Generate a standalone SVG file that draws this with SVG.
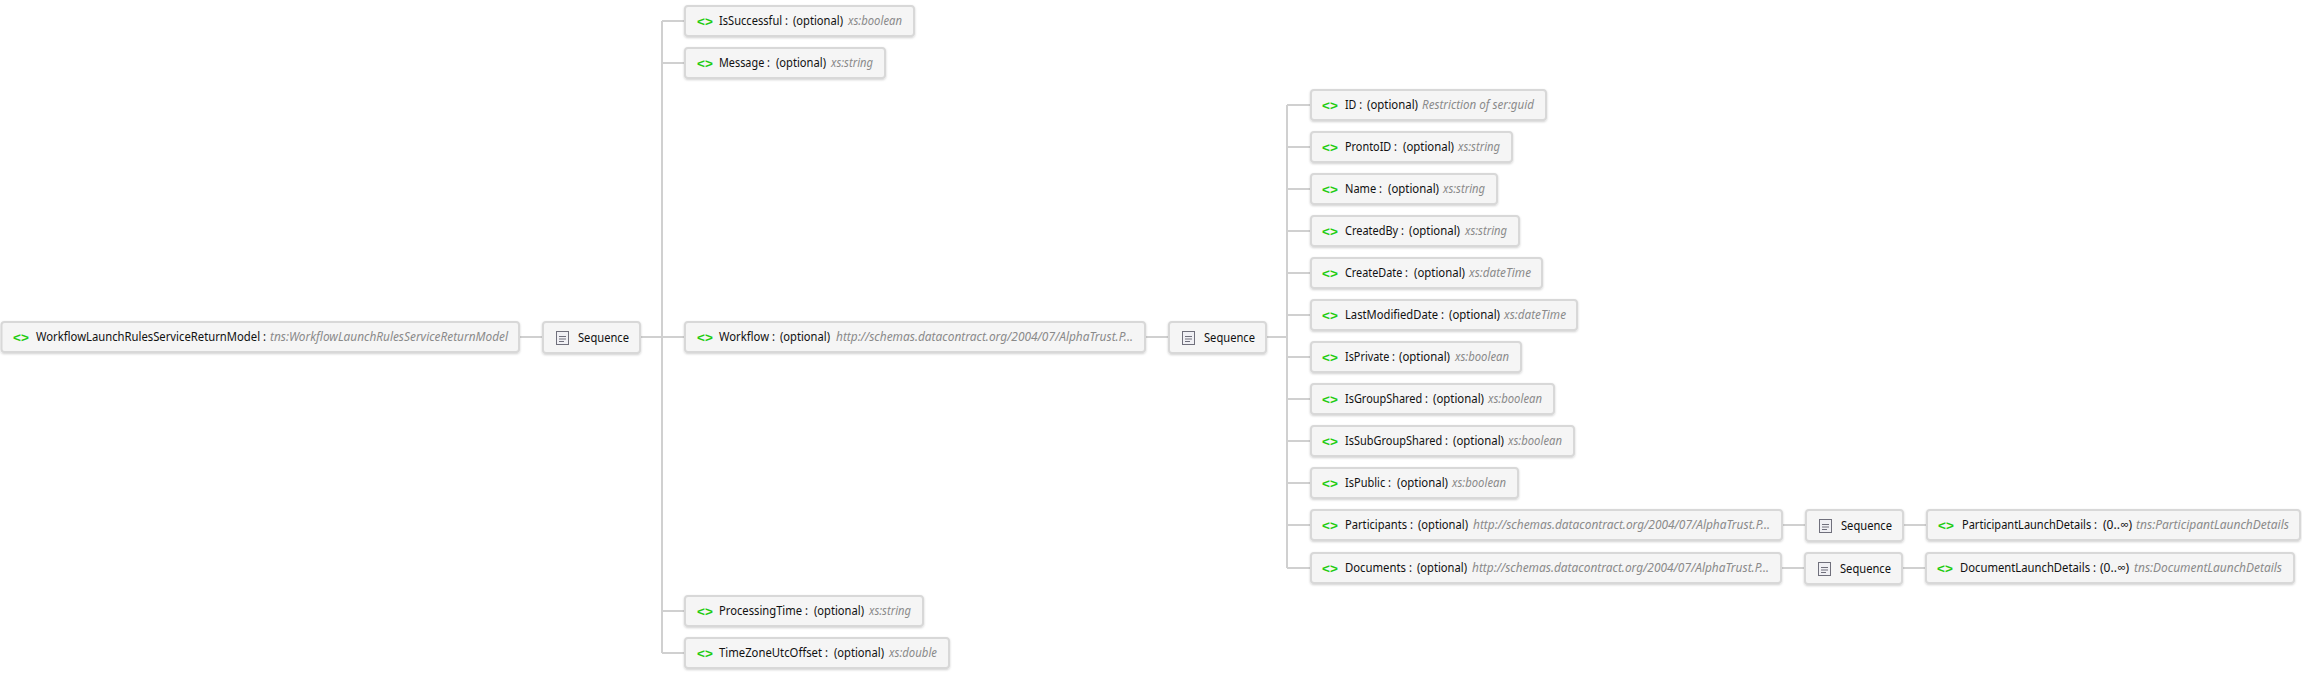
<svg xmlns="http://www.w3.org/2000/svg" width="2302" height="674" viewBox="0 0 2302 674">
<style>
text{font-family:"Noto Sans","Open Sans","Liberation Sans",sans-serif;font-size:12px;fill:#111}
.box{fill:#f5f5f5;stroke:#d8d8d8;stroke-width:2}
.ty{font-style:italic;fill:#8a8a8a}
text.ch{font-family:"Liberation Sans",sans-serif;font-weight:bold;font-size:13.5px;fill:#22cc11}
.ln{stroke:#d0d0d0;stroke-width:2;fill:none}
.ic{fill:#f0f0f4;stroke:#70707c;stroke-width:1}
.il{stroke:#70707c;stroke-width:1}
</style>
<defs>
<filter id="sh" x="-5%" y="-20%" width="110%" height="150%"><feDropShadow dx="0" dy="1" stdDeviation="1" flood-color="#000" flood-opacity="0.18"/></filter>
<g id="seqicon"><rect class="ic" x="0.5" y="0.5" width="12" height="13"/><path class="il" d="M3 5.5H10M3 8H10M3 10.5H8"/></g>
</defs>
<g id="connectors">
<path class="ln" d="M520 337H542M641 337H684M662 21V653M662 21H684M662 63H684M662 611H684M662 653H684"/>
<path class="ln" d="M1146 337H1168M1267 337H1287M1287 105V568M1287 105H1310M1287 147H1310M1287 189H1310M1287 231H1310M1287 273H1310M1287 315H1310M1287 357H1310M1287 399H1310M1287 441H1310M1287 483H1310M1287 525H1310M1287 568H1310"/>
<path class="ln" d="M1783 525H1805M1904 525H1926M1782 568H1804M1903 568H1925"/>
</g>
<g id="root"><rect class="box" filter="url(#sh)" x="1.5" y="322" width="517.5" height="30" rx="3"/><text class="ch" x="13" y="341.5">&lt;&gt;</text><text y="341"><tspan x="36" textLength="230" lengthAdjust="spacingAndGlyphs">WorkflowLaunchRulesServiceReturnModel :</tspan><tspan class="ty" x="270" textLength="238" lengthAdjust="spacingAndGlyphs">tns:WorkflowLaunchRulesServiceReturnModel</tspan></text></g>
<g id="seq1"><rect class="box" filter="url(#sh)" x="543" y="322" width="97" height="31" rx="3"/><use href="#seqicon" x="556" y="331"/><text x="578" y="342" textLength="51" lengthAdjust="spacingAndGlyphs">Sequence</text></g>
<g id="isSuccessful"><rect class="box" filter="url(#sh)" x="685" y="6" width="229" height="30" rx="3"/><text class="ch" x="697" y="25.5">&lt;&gt;</text><text y="25"><tspan x="719" textLength="69" lengthAdjust="spacingAndGlyphs">IsSuccessful :</tspan><tspan x="793" textLength="50" lengthAdjust="spacingAndGlyphs">(optional)</tspan><tspan class="ty" x="848" textLength="54" lengthAdjust="spacingAndGlyphs">xs:boolean</tspan></text></g>
<g id="message"><rect class="box" filter="url(#sh)" x="685" y="48" width="200" height="30" rx="3"/><text class="ch" x="697" y="67.5">&lt;&gt;</text><text y="67"><tspan x="719" textLength="51" lengthAdjust="spacingAndGlyphs">Message :</tspan><tspan x="776" textLength="50" lengthAdjust="spacingAndGlyphs">(optional)</tspan><tspan class="ty" x="831" textLength="42" lengthAdjust="spacingAndGlyphs">xs:string</tspan></text></g>
<g id="workflow"><rect class="box" filter="url(#sh)" x="685" y="322" width="460" height="30" rx="3"/><text class="ch" x="697" y="341.5">&lt;&gt;</text><text y="341"><tspan x="719" textLength="56" lengthAdjust="spacingAndGlyphs">Workflow :</tspan><tspan x="780" textLength="50" lengthAdjust="spacingAndGlyphs">(optional)</tspan><tspan class="ty" x="836" textLength="297" lengthAdjust="spacingAndGlyphs">http://schemas.datacontract.org/2004/07/AlphaTrust.P...</tspan></text></g>
<g id="processingTime"><rect class="box" filter="url(#sh)" x="685" y="596" width="238" height="30" rx="3"/><text class="ch" x="697" y="615.5">&lt;&gt;</text><text y="615"><tspan x="719" textLength="89" lengthAdjust="spacingAndGlyphs">ProcessingTime :</tspan><tspan x="814" textLength="50" lengthAdjust="spacingAndGlyphs">(optional)</tspan><tspan class="ty" x="869" textLength="42" lengthAdjust="spacingAndGlyphs">xs:string</tspan></text></g>
<g id="timeZone"><rect class="box" filter="url(#sh)" x="685" y="638" width="264" height="30" rx="3"/><text class="ch" x="697" y="657.5">&lt;&gt;</text><text y="657"><tspan x="719" textLength="109" lengthAdjust="spacingAndGlyphs">TimeZoneUtcOffset :</tspan><tspan x="834" textLength="50" lengthAdjust="spacingAndGlyphs">(optional)</tspan><tspan class="ty" x="889" textLength="48" lengthAdjust="spacingAndGlyphs">xs:double</tspan></text></g>
<g id="seq2"><rect class="box" filter="url(#sh)" x="1169" y="322" width="97" height="31" rx="3"/><use href="#seqicon" x="1182" y="331"/><text x="1204" y="342" textLength="51" lengthAdjust="spacingAndGlyphs">Sequence</text></g>
<g id="id"><rect class="box" filter="url(#sh)" x="1311" y="90" width="235" height="30" rx="3"/><text class="ch" x="1322" y="109.5">&lt;&gt;</text><text y="109"><tspan x="1345" textLength="17" lengthAdjust="spacingAndGlyphs">ID :</tspan><tspan x="1367" textLength="51" lengthAdjust="spacingAndGlyphs">(optional)</tspan><tspan class="ty" x="1422" textLength="112" lengthAdjust="spacingAndGlyphs">Restriction of ser:guid</tspan></text></g>
<g id="prontoId"><rect class="box" filter="url(#sh)" x="1311" y="132" width="201" height="30" rx="3"/><text class="ch" x="1322" y="151.5">&lt;&gt;</text><text y="151"><tspan x="1345" textLength="52" lengthAdjust="spacingAndGlyphs">ProntoID :</tspan><tspan x="1403" textLength="51" lengthAdjust="spacingAndGlyphs">(optional)</tspan><tspan class="ty" x="1458" textLength="42" lengthAdjust="spacingAndGlyphs">xs:string</tspan></text></g>
<g id="name"><rect class="box" filter="url(#sh)" x="1311" y="174" width="186" height="30" rx="3"/><text class="ch" x="1322" y="193.5">&lt;&gt;</text><text y="193"><tspan x="1345" textLength="37" lengthAdjust="spacingAndGlyphs">Name :</tspan><tspan x="1388" textLength="51" lengthAdjust="spacingAndGlyphs">(optional)</tspan><tspan class="ty" x="1443" textLength="42" lengthAdjust="spacingAndGlyphs">xs:string</tspan></text></g>
<g id="createdBy"><rect class="box" filter="url(#sh)" x="1311" y="216" width="208" height="30" rx="3"/><text class="ch" x="1322" y="235.5">&lt;&gt;</text><text y="235"><tspan x="1345" textLength="59" lengthAdjust="spacingAndGlyphs">CreatedBy :</tspan><tspan x="1409" textLength="51" lengthAdjust="spacingAndGlyphs">(optional)</tspan><tspan class="ty" x="1465" textLength="42" lengthAdjust="spacingAndGlyphs">xs:string</tspan></text></g>
<g id="createDate"><rect class="box" filter="url(#sh)" x="1311" y="258" width="231" height="30" rx="3"/><text class="ch" x="1322" y="277.5">&lt;&gt;</text><text y="277"><tspan x="1345" textLength="63" lengthAdjust="spacingAndGlyphs">CreateDate :</tspan><tspan x="1414" textLength="51" lengthAdjust="spacingAndGlyphs">(optional)</tspan><tspan class="ty" x="1469" textLength="62" lengthAdjust="spacingAndGlyphs">xs:dateTime</tspan></text></g>
<g id="lastModifiedDate"><rect class="box" filter="url(#sh)" x="1311" y="300" width="266" height="30" rx="3"/><text class="ch" x="1322" y="319.5">&lt;&gt;</text><text y="319"><tspan x="1345" textLength="99" lengthAdjust="spacingAndGlyphs">LastModifiedDate :</tspan><tspan x="1449" textLength="51" lengthAdjust="spacingAndGlyphs">(optional)</tspan><tspan class="ty" x="1504" textLength="62" lengthAdjust="spacingAndGlyphs">xs:dateTime</tspan></text></g>
<g id="isPrivate"><rect class="box" filter="url(#sh)" x="1311" y="342" width="210" height="30" rx="3"/><text class="ch" x="1322" y="361.5">&lt;&gt;</text><text y="361"><tspan x="1345" textLength="50" lengthAdjust="spacingAndGlyphs">IsPrivate :</tspan><tspan x="1399" textLength="51" lengthAdjust="spacingAndGlyphs">(optional)</tspan><tspan class="ty" x="1455" textLength="54" lengthAdjust="spacingAndGlyphs">xs:boolean</tspan></text></g>
<g id="isGroupShared"><rect class="box" filter="url(#sh)" x="1311" y="384" width="243" height="30" rx="3"/><text class="ch" x="1322" y="403.5">&lt;&gt;</text><text y="403"><tspan x="1345" textLength="83" lengthAdjust="spacingAndGlyphs">IsGroupShared :</tspan><tspan x="1433" textLength="51" lengthAdjust="spacingAndGlyphs">(optional)</tspan><tspan class="ty" x="1488" textLength="54" lengthAdjust="spacingAndGlyphs">xs:boolean</tspan></text></g>
<g id="isSubGroupShared"><rect class="box" filter="url(#sh)" x="1311" y="426" width="263" height="30" rx="3"/><text class="ch" x="1322" y="445.5">&lt;&gt;</text><text y="445"><tspan x="1345" textLength="103" lengthAdjust="spacingAndGlyphs">IsSubGroupShared :</tspan><tspan x="1453" textLength="51" lengthAdjust="spacingAndGlyphs">(optional)</tspan><tspan class="ty" x="1508" textLength="54" lengthAdjust="spacingAndGlyphs">xs:boolean</tspan></text></g>
<g id="isPublic"><rect class="box" filter="url(#sh)" x="1311" y="468" width="207" height="30" rx="3"/><text class="ch" x="1322" y="487.5">&lt;&gt;</text><text y="487"><tspan x="1345" textLength="46" lengthAdjust="spacingAndGlyphs">IsPublic :</tspan><tspan x="1397" textLength="51" lengthAdjust="spacingAndGlyphs">(optional)</tspan><tspan class="ty" x="1452" textLength="54" lengthAdjust="spacingAndGlyphs">xs:boolean</tspan></text></g>
<g id="participants"><rect class="box" filter="url(#sh)" x="1311" y="510" width="471" height="30" rx="3"/><text class="ch" x="1322" y="529.5">&lt;&gt;</text><text y="529"><tspan x="1345" textLength="68" lengthAdjust="spacingAndGlyphs">Participants :</tspan><tspan x="1418" textLength="50" lengthAdjust="spacingAndGlyphs">(optional)</tspan><tspan class="ty" x="1473" textLength="297" lengthAdjust="spacingAndGlyphs">http://schemas.datacontract.org/2004/07/AlphaTrust.P...</tspan></text></g>
<g id="documents"><rect class="box" filter="url(#sh)" x="1311" y="553" width="470" height="30" rx="3"/><text class="ch" x="1322" y="572.5">&lt;&gt;</text><text y="572"><tspan x="1345" textLength="67" lengthAdjust="spacingAndGlyphs">Documents :</tspan><tspan x="1417" textLength="50" lengthAdjust="spacingAndGlyphs">(optional)</tspan><tspan class="ty" x="1472" textLength="297" lengthAdjust="spacingAndGlyphs">http://schemas.datacontract.org/2004/07/AlphaTrust.P...</tspan></text></g>
<g id="seq3"><rect class="box" filter="url(#sh)" x="1806" y="510" width="97" height="31" rx="3"/><use href="#seqicon" x="1819" y="519"/><text x="1841" y="530" textLength="51" lengthAdjust="spacingAndGlyphs">Sequence</text></g>
<g id="seq4"><rect class="box" filter="url(#sh)" x="1805" y="553" width="97" height="31" rx="3"/><use href="#seqicon" x="1818" y="562"/><text x="1840" y="573" textLength="51" lengthAdjust="spacingAndGlyphs">Sequence</text></g>
<g id="participantLaunchDetails"><rect class="box" filter="url(#sh)" x="1927" y="510" width="373" height="30" rx="3"/><text class="ch" x="1938" y="529.5">&lt;&gt;</text><text y="529"><tspan x="1962" textLength="135" lengthAdjust="spacingAndGlyphs">ParticipantLaunchDetails :</tspan><tspan x="2103" textLength="29" lengthAdjust="spacingAndGlyphs">(0..∞)</tspan><tspan class="ty" x="2136" textLength="153" lengthAdjust="spacingAndGlyphs">tns:ParticipantLaunchDetails</tspan></text></g>
<g id="documentLaunchDetails"><rect class="box" filter="url(#sh)" x="1926" y="553" width="368" height="30" rx="3"/><text class="ch" x="1937" y="572.5">&lt;&gt;</text><text y="572"><tspan x="1960" textLength="136" lengthAdjust="spacingAndGlyphs">DocumentLaunchDetails :</tspan><tspan x="2100" textLength="29" lengthAdjust="spacingAndGlyphs">(0..∞)</tspan><tspan class="ty" x="2134" textLength="148" lengthAdjust="spacingAndGlyphs">tns:DocumentLaunchDetails</tspan></text></g>
</svg>
